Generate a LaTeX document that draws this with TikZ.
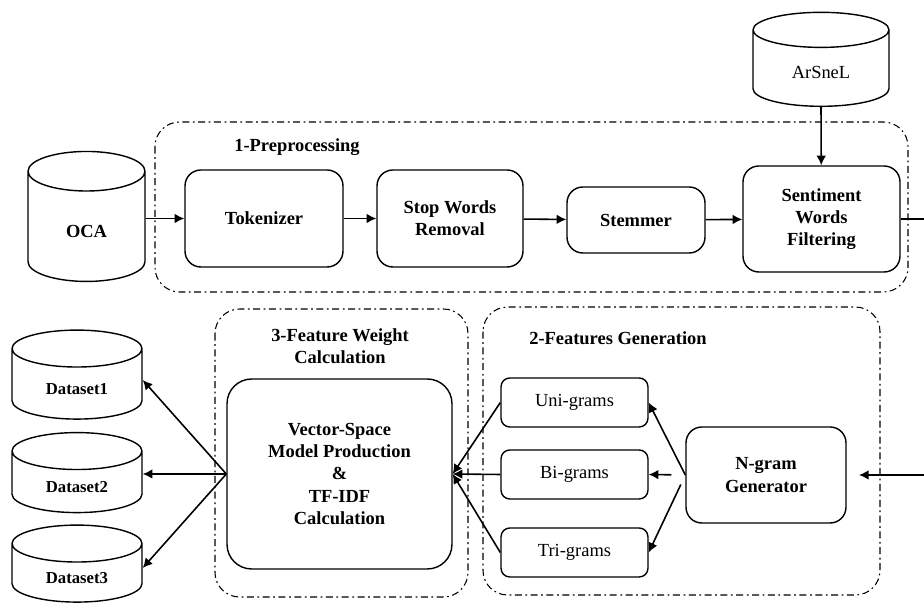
\documentclass[tikz,border=0pt]{standalone}
\usepackage{fontspec}
\setmainfont{Liberation Serif}
\usetikzlibrary{shapes.geometric, arrows.meta}

\newcommand{\lowtext}[1]{\raisebox{-3.5pt}[0pt][0pt]{#1}}

\begin{document}
\begin{tikzpicture}[x=0.02cm, y=-0.02cm,
    stage/.style={draw, line width=0.8pt, rounded corners=9pt, align=center,
      font=\fontsize{10.5}{12.7}\selectfont\bfseries},
    gram/.style={draw, line width=0.8pt, rounded corners=5pt,
      minimum width=2.94cm, minimum height=0.98cm,
      font=\fontsize{10.5}{12.7}\selectfont},
    store/.style={draw, line width=0.8pt, cylinder, shape border rotate=90,
      aspect=0.75, font=\fontsize{10.5}{12.7}\selectfont\bfseries},
    group/.style={line width=0.6pt, rounded corners=14pt,
      dash pattern=on 4pt off 2pt on 1pt off 2pt},
    flow/.style={-{Latex[length=5.5pt, width=5.5pt]}, line width=0.9pt}]
  \useasboundingbox (0,0) rectangle (924,607);

  % dashed groups
  \draw[group] (155,122) rectangle (908,292);
  \draw[group] (215,309) rectangle (468,597);
  \draw[group] (483,307) rectangle (880,595);
  \node[font=\fontsize{10.5}{12.7}\selectfont\bfseries] (lblpre) at (297,147) {1-Preprocessing};
  \node[font=\fontsize{10.5}{12.7}\selectfont\bfseries, align=center] (lblwgt) at (340,346) {3-Feature Weight\\Calculation};
  \node[font=\fontsize{10.5}{12.7}\selectfont\bfseries] (lblgen) at (618,338) {2-Features Generation};

  % stores
  \node[store, minimum width=2.34cm, minimum height=2.6cm] (oca) at (86.5,231) {\lowtext{OCA}};
  \node[store, aspect=0.5, minimum width=2.72cm, minimum height=1.88cm,
    font=\fontsize{10.5}{12.7}\selectfont] (arsnel) at (821,72) {\lowtext{ArSneL}};
  \node[store, aspect=0.5, minimum width=2.6cm, minimum height=1.78cm,
    font=\fontsize{9.5}{11}\selectfont\bfseries] (ds1) at (77,388) {\lowtext{Dataset1}};
  \node[store, aspect=0.5, minimum width=2.6cm, minimum height=1.6cm,
    font=\fontsize{9.5}{11}\selectfont\bfseries] (ds2) at (77,486) {\lowtext{Dataset2}};
  \node[store, aspect=0.5, minimum width=2.6cm, minimum height=1.54cm,
    font=\fontsize{9.5}{11}\selectfont\bfseries] (ds3) at (77,577) {\lowtext{Dataset3}};

  % preprocessing steps
  \node[stage, minimum width=3.16cm, minimum height=1.94cm] (tok) at (264,218.5) {Tokenizer};
  \node[stage, minimum width=2.92cm, minimum height=1.94cm] (swr) at (450,218.5) {Stop Words\\Removal};
  \node[stage, minimum width=2.76cm, minimum height=1.32cm] (stem) at (636,220) {Stemmer};
  \node[stage, minimum width=3.14cm, minimum height=2.12cm] (swf) at (821.5,219) {Sentiment\\Words\\Filtering};

  % features and weights
  \node[stage, minimum width=4.5cm, minimum height=3.8cm, rounded corners=14pt] (vsm) at (339.5,474)
    {Vector-Space\\Model Production\\\&\\TF-IDF\\Calculation};
  \node[gram] (uni) at (574.5,402.5) {Uni-grams};
  \node[gram] (bi) at (574.5,474.5) {Bi-grams};
  \node[gram] (tri) at (574.5,552.5) {Tri-grams};
  \node[stage, minimum width=3.2cm, minimum height=1.92cm] (ngram) at (766,475) {N-gram\\Generator};

  \coordinate (outR) at (924,219);
  \coordinate (inR) at (924,475);

  % connections
  \draw[flow] (oca.east |- tok.west) -- (tok);
  \draw[flow] (tok) -- (swr);
  \draw[flow] (swr) -- (stem);
  \draw[flow] (stem) -- (swf);
  \draw[flow] (arsnel.bottom) -- (swf);
  \draw[line width=0.9pt] (swf) -- (outR);
  \draw[flow, shorten >=7] (inR) -- (ngram);
  \draw[flow] (ngram.west) -- (uni.east);
  \draw[flow, shorten <=8] (ngram.west) -- (bi.east);
  \draw[flow, shorten <=6] (ngram.west) -- (tri.east);
  \draw[flow] (uni.west) -- (vsm.east);
  \draw[flow] (bi.west) -- (vsm.east);
  \draw[flow] (tri.west) -- (vsm.east);
  \draw[flow] (vsm.west) -- (ds1.east |- 0,380);
  \draw[flow] (vsm.west) -- (ds2.east |- vsm.west);
  \draw[flow] (vsm.west) -- (ds3.east |- 0,568);
\end{tikzpicture}
\end{document}
